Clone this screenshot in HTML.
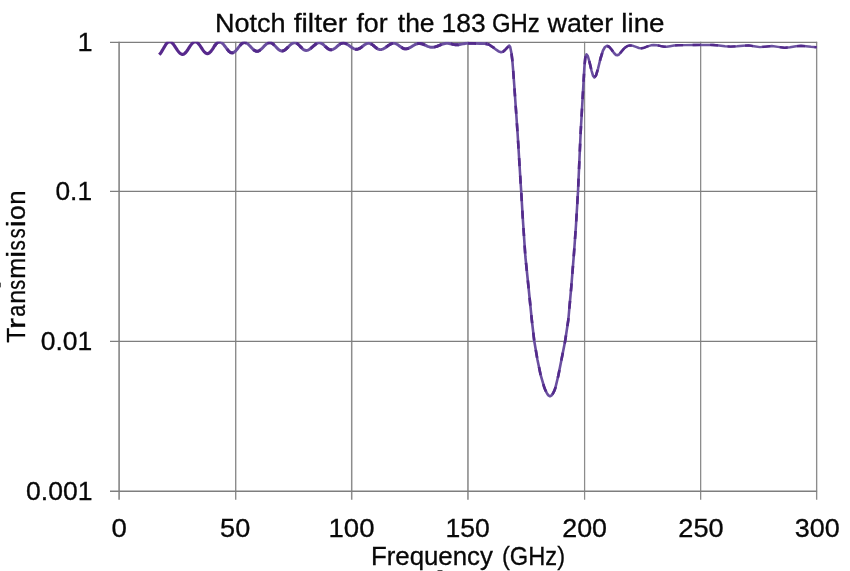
<!DOCTYPE html>
<html><head><meta charset="utf-8"><title>Notch filter</title>
<style>html,body{margin:0;padding:0;background:#fff;}body{width:850px;height:571px;overflow:hidden;position:relative;font-family:"Liberation Sans",sans-serif;}</style>
</head><body>
<svg width="850" height="571" viewBox="0 0 850 571" style="position:absolute;left:0;top:0;will-change:transform">
<rect width="850" height="571" fill="#fff"/>
<g stroke="#8c8c8c">
<line x1="119.1" y1="41.8" x2="119.1" y2="499.8" stroke-width="1.7"/>
<line x1="235.7" y1="41.8" x2="235.7" y2="499.8" stroke-width="1.4"/>
<line x1="351.7" y1="41.8" x2="351.7" y2="499.8" stroke-width="1.5"/>
<line x1="467.95" y1="41.8" x2="467.95" y2="499.8" stroke-width="1.6"/>
<line x1="584.6" y1="41.8" x2="584.6" y2="499.8" stroke-width="1.25"/>
<line x1="700.65" y1="41.8" x2="700.65" y2="499.8" stroke-width="1.3"/>
<line x1="816.65" y1="41.8" x2="816.65" y2="499.8" stroke-width="1.35"/>
</g>
<g stroke="#7e7e7e">
<line x1="110" y1="42.38" x2="817.1" y2="42.38" stroke-width="1.25"/>
<line x1="110" y1="191.4" x2="817.1" y2="191.4" stroke-width="1.25"/>
<line x1="110" y1="341.4" x2="817.1" y2="341.4" stroke-width="1.25"/>
<line x1="110" y1="491.3" x2="817.1" y2="491.3" stroke-width="1.4"/>
</g>
<clipPath id="cp"><rect x="100" y="41.7" width="740" height="470"/></clipPath>
<g clip-path="url(#cp)" fill="none" stroke-linejoin="round" stroke-linecap="butt">
<path d="M214.4,46.2 L215.4,44.8 L216.4,43.6 L217.4,42.7 L218.4,42.1 L219.4,41.9 L220.5,42.1 L221.5,42.6 L222.6,43.5 L223.6,44.6 L224.7,46.0 L225.8,47.4 L226.8,48.8 L227.9,50.1 L228.9,51.3 L230.0,52.2 L231.0,52.7 L232.1,52.9 L233.1,52.7 L234.2,52.2 L235.2,51.4 L236.2,50.3 L237.3,49.0 L238.3,47.7 L239.3,46.4 L240.4,45.1 L241.4,44.0 L242.4,43.2 L243.5,42.7 L244.5,42.5 L245.5,42.6 L246.6,43.1 L247.6,43.8 L248.7,44.7 L249.7,45.8 L250.8,46.9 L251.8,48.0 L252.8,49.1 L253.9,50.0 L254.9,50.7 L256.0,51.2 L257.0,51.3 L258.1,51.2 L259.1,50.7 L260.2,50.0 L261.2,49.1 L262.3,48.1 L263.4,47.0 L264.4,45.8 L265.5,44.8 L266.5,43.9 L267.6,43.2 L268.6,42.7 L269.7,42.6 L270.7,42.7 L271.8,43.2 L272.8,43.8 L273.8,44.7 L274.8,45.7 L275.9,46.8 L276.9,47.9 L277.9,48.9 L278.9,49.8 L279.9,50.4 L281.0,50.9 L282.0,51.0 L283.1,50.9 L284.1,50.4 L285.1,49.8 L286.2,48.9 L287.2,47.9 L288.3,46.9 L289.4,45.8 L290.4,44.8 L291.5,43.9 L292.5,43.3 L293.6,42.8 L294.6,42.7 L295.7,42.9 L296.7,43.3 L297.8,44.0 L298.8,45.0 L299.9,46.0 L300.9,47.2 L302.0,48.2 L303.0,49.2 L304.1,49.9 L305.1,50.3 L306.2,50.5 L307.2,50.4 L308.2,50.1 L309.2,49.5 L310.2,48.8 L311.2,48.0 L312.2,47.1 L313.3,46.2 L314.3,45.3 L315.3,44.5 L316.3,43.8 L317.3,43.2 L318.3,42.9 L319.3,42.8 L320.4,42.9 L321.4,43.4 L322.5,44.0 L323.6,44.8 L324.6,45.8 L325.7,46.8 L326.7,47.8 L327.8,48.6 L328.9,49.2 L329.9,49.7 L331.0,49.8 L332.0,49.7 L333.1,49.3 L334.1,48.8 L335.1,48.1 L336.1,47.3 L337.1,46.4 L338.2,45.5 L339.2,44.7 L340.2,44.0 L341.2,43.5 L342.3,43.1 L343.3,43.0 L344.3,43.1 L345.3,43.4 L346.3,43.8 L347.4,44.4 L348.4,45.0 L349.4,45.8 L350.4,46.5 L351.4,47.3 L352.4,47.9 L353.5,48.5 L354.5,48.9 L355.5,49.2 L356.5,49.3 L357.5,49.2 L358.5,48.9 L359.6,48.4 L360.6,47.8 L361.6,47.1 L362.6,46.3 L363.6,45.5 L364.6,44.8 L365.6,44.2 L366.7,43.7 L367.7,43.4 L368.7,43.3 L369.8,43.4 L370.8,43.8 L371.9,44.4 L372.9,45.1 L374.0,46.0 L375.0,46.9 L376.1,47.8 L377.1,48.5 L378.2,49.1 L379.2,49.5 L380.3,49.6 L381.3,49.5 L382.4,49.2 L383.4,48.8 L384.4,48.2 L385.5,47.6 L386.5,46.8 L387.5,46.1 L388.5,45.3 L389.6,44.7 L390.6,44.1 L391.6,43.7 L392.7,43.4 L393.7,43.3 L394.8,43.4 L395.9,43.7 L396.9,44.3 L398.0,44.9 L399.1,45.7 L400.2,46.5 L401.3,47.3 L402.4,47.9 L403.4,48.5 L404.5,48.8 L405.6,48.9 L406.6,48.8 L407.7,48.6 L408.7,48.2 L409.8,47.7 L410.8,47.1 L411.9,46.5 L412.9,45.8 L414.0,45.2 L415.0,44.6 L416.1,44.1 L417.1,43.7 L418.2,43.5 L419.2,43.4 L420.3,43.5 L421.3,43.7 L422.4,44.0 L423.5,44.4 L424.5,44.8 L425.6,45.3 L426.7,45.9 L427.7,46.3 L428.8,46.7 L429.9,47.0 L430.9,47.2 L432.0,47.3 L433.0,47.3 L434.0,47.1 L435.0,46.9 L436.0,46.6 L437.0,46.3 L438.0,45.9 L439.0,45.5 L440.0,45.1 L441.0,44.7 L442.0,44.3 L443.0,44.0 L444.0,43.7 L445.0,43.5 L446.0,43.3 L447.0,43.3 L448.1,43.3 L449.1,43.5 L450.2,43.7 L451.2,43.9 L452.3,44.2 L453.3,44.4 L454.4,44.6 L455.4,44.8 L456.5,44.8 L457.5,44.8 L458.6,44.7 L459.6,44.5 L460.7,44.3 L461.7,44.1 L462.8,43.9 L463.8,43.7 L464.9,43.5 L465.9,43.3 L467.0,43.2 L468.0,43.3 L474.0,43.4 L480.0,43.5 L485.0,43.6 L487.5,44.0" stroke="#6a4fa0" stroke-width="2.95"/>
<path d="M214.4,46.2 L215.4,44.8 L216.4,43.6 L217.4,42.7 L218.4,42.1 L219.4,41.9 L220.5,42.1 L221.5,42.6 L222.6,43.5 L223.6,44.6 L224.7,46.0 L225.8,47.4 L226.8,48.8 L227.9,50.1 L228.9,51.3 L230.0,52.2 L231.0,52.7 L232.1,52.9 L233.1,52.7 L234.2,52.2 L235.2,51.4 L236.2,50.3 L237.3,49.0 L238.3,47.7 L239.3,46.4 L240.4,45.1 L241.4,44.0 L242.4,43.2 L243.5,42.7 L244.5,42.5 L245.5,42.6 L246.6,43.1 L247.6,43.8 L248.7,44.7 L249.7,45.8 L250.8,46.9 L251.8,48.0 L252.8,49.1 L253.9,50.0 L254.9,50.7 L256.0,51.2 L257.0,51.3 L258.1,51.2 L259.1,50.7 L260.2,50.0 L261.2,49.1 L262.3,48.1 L263.4,47.0 L264.4,45.8 L265.5,44.8 L266.5,43.9 L267.6,43.2 L268.6,42.7 L269.7,42.6 L270.7,42.7 L271.8,43.2 L272.8,43.8 L273.8,44.7 L274.8,45.7 L275.9,46.8 L276.9,47.9 L277.9,48.9 L278.9,49.8 L279.9,50.4 L281.0,50.9 L282.0,51.0 L283.1,50.9 L284.1,50.4 L285.1,49.8 L286.2,48.9 L287.2,47.9 L288.3,46.9 L289.4,45.8 L290.4,44.8 L291.5,43.9 L292.5,43.3 L293.6,42.8 L294.6,42.7 L295.7,42.9 L296.7,43.3 L297.8,44.0 L298.8,45.0 L299.9,46.0 L300.9,47.2 L302.0,48.2 L303.0,49.2 L304.1,49.9 L305.1,50.3 L306.2,50.5 L307.2,50.4 L308.2,50.1 L309.2,49.5 L310.2,48.8 L311.2,48.0 L312.2,47.1 L313.3,46.2 L314.3,45.3 L315.3,44.5 L316.3,43.8 L317.3,43.2 L318.3,42.9 L319.3,42.8 L320.4,42.9 L321.4,43.4 L322.5,44.0 L323.6,44.8 L324.6,45.8 L325.7,46.8 L326.7,47.8 L327.8,48.6 L328.9,49.2 L329.9,49.7 L331.0,49.8 L332.0,49.7 L333.1,49.3 L334.1,48.8 L335.1,48.1 L336.1,47.3 L337.1,46.4 L338.2,45.5 L339.2,44.7 L340.2,44.0 L341.2,43.5 L342.3,43.1 L343.3,43.0 L344.3,43.1 L345.3,43.4 L346.3,43.8 L347.4,44.4 L348.4,45.0 L349.4,45.8 L350.4,46.5 L351.4,47.3 L352.4,47.9 L353.5,48.5 L354.5,48.9 L355.5,49.2 L356.5,49.3 L357.5,49.2 L358.5,48.9 L359.6,48.4 L360.6,47.8 L361.6,47.1 L362.6,46.3 L363.6,45.5 L364.6,44.8 L365.6,44.2 L366.7,43.7 L367.7,43.4 L368.7,43.3 L369.8,43.4 L370.8,43.8 L371.9,44.4 L372.9,45.1 L374.0,46.0 L375.0,46.9 L376.1,47.8 L377.1,48.5 L378.2,49.1 L379.2,49.5 L380.3,49.6 L381.3,49.5 L382.4,49.2 L383.4,48.8 L384.4,48.2 L385.5,47.6 L386.5,46.8 L387.5,46.1 L388.5,45.3 L389.6,44.7 L390.6,44.1 L391.6,43.7 L392.7,43.4 L393.7,43.3 L394.8,43.4 L395.9,43.7 L396.9,44.3 L398.0,44.9 L399.1,45.7 L400.2,46.5 L401.3,47.3 L402.4,47.9 L403.4,48.5 L404.5,48.8 L405.6,48.9 L406.6,48.8 L407.7,48.6 L408.7,48.2 L409.8,47.7 L410.8,47.1 L411.9,46.5 L412.9,45.8 L414.0,45.2 L415.0,44.6 L416.1,44.1 L417.1,43.7 L418.2,43.5 L419.2,43.4 L420.3,43.5 L421.3,43.7 L422.4,44.0 L423.5,44.4 L424.5,44.8 L425.6,45.3 L426.7,45.9 L427.7,46.3 L428.8,46.7 L429.9,47.0 L430.9,47.2 L432.0,47.3 L433.0,47.3 L434.0,47.1 L435.0,46.9 L436.0,46.6 L437.0,46.3 L438.0,45.9 L439.0,45.5 L440.0,45.1 L441.0,44.7 L442.0,44.3 L443.0,44.0 L444.0,43.7 L445.0,43.5 L446.0,43.3 L447.0,43.3 L448.1,43.3 L449.1,43.5 L450.2,43.7 L451.2,43.9 L452.3,44.2 L453.3,44.4 L454.4,44.6 L455.4,44.8 L456.5,44.8 L457.5,44.8 L458.6,44.7 L459.6,44.5 L460.7,44.3 L461.7,44.1 L462.8,43.9 L463.8,43.7 L464.9,43.5 L465.9,43.3 L467.0,43.2 L468.0,43.3 L474.0,43.4 L480.0,43.5 L485.0,43.6 L487.5,44.0" stroke="#532a8b" stroke-width="2.95" stroke-dasharray="8 9.5"/>
<path d="M487.5,44.0 L490.0,45.2 L492.0,46.6 L494.0,47.9 L496.5,49.9 L499.0,51.6 L501.0,52.2 L503.0,51.7 L505.0,50.0 L507.0,47.8 L508.5,46.3 L509.3,45.6 L510.2,47.0 L511.5,53.5 L512.3,60.0 L513.2,71.0 L514.2,84.5 L515.9,109.0 L517.6,133.5 L519.1,158.0 L520.6,182.5 L521.2,191.4 L522.8,218.5 L525.4,257.0 L528.5,287.0 L531.8,320.0 L534.3,341.3 L537.4,359.4 L540.7,375.2 L544.4,387.8 L545.5,390.4 L546.6,392.6 L547.6,394.3 L548.7,395.6 L550.0,396.2 L551.3,395.6 L552.4,394.3 L553.4,392.6 L554.5,390.4 L555.4,387.8 L558.4,375.2 L561.5,359.4 L565.1,341.3 L568.3,320.0 L571.3,286.7 L574.0,253.0 L576.0,225.0 L578.0,191.5 L579.5,158.0 L580.6,133.5 L582.0,109.0 L583.4,84.5 L584.4,67.0 L585.3,57.5 L586.5,54.4 L587.8,56.0 L589.5,62.0 L591.5,70.5 L593.0,75.6 L594.4,77.4 L596.0,75.5 L598.0,68.8 L600.5,58.5 L603.0,50.5 L605.0,47.0 L607.0,45.8 L609.0,46.7 L611.5,49.5 L614.0,53.0 L616.0,55.0 L617.3,55.3 L619.0,54.5 L621.5,51.5 L624.5,48.0" stroke="#6a4fa0" stroke-width="2.6"/>
<path d="M487.5,44.0 L490.0,45.2 L492.0,46.6 L494.0,47.9 L496.5,49.9 L499.0,51.6 L501.0,52.2 L503.0,51.7 L505.0,50.0 L507.0,47.8 L508.5,46.3 L509.3,45.6 L510.2,47.0 L511.5,53.5 L512.3,60.0 L513.2,71.0 L514.2,84.5 L515.9,109.0 L517.6,133.5 L519.1,158.0 L520.6,182.5 L521.2,191.4 L522.8,218.5 L525.4,257.0 L528.5,287.0 L531.8,320.0 L534.3,341.3 L537.4,359.4 L540.7,375.2 L544.4,387.8 L545.5,390.4 L546.6,392.6 L547.6,394.3 L548.7,395.6 L550.0,396.2 L551.3,395.6 L552.4,394.3 L553.4,392.6 L554.5,390.4 L555.4,387.8 L558.4,375.2 L561.5,359.4 L565.1,341.3 L568.3,320.0 L571.3,286.7 L574.0,253.0 L576.0,225.0 L578.0,191.5 L579.5,158.0 L580.6,133.5 L582.0,109.0 L583.4,84.5 L584.4,67.0 L585.3,57.5 L586.5,54.4 L587.8,56.0 L589.5,62.0 L591.5,70.5 L593.0,75.6 L594.4,77.4 L596.0,75.5 L598.0,68.8 L600.5,58.5 L603.0,50.5 L605.0,47.0 L607.0,45.8 L609.0,46.7 L611.5,49.5 L614.0,53.0 L616.0,55.0 L617.3,55.3 L619.0,54.5 L621.5,51.5 L624.5,48.0" stroke="#532a8b" stroke-width="2.6" stroke-dasharray="8 9.5"/>
<path d="M624.5,48.0 L627.5,46.0 L630.0,45.4 L633.0,45.8 L636.0,46.9 L639.0,48.0 L641.3,48.3 L644.0,47.8 L647.5,46.4 L651.0,45.3 L653.5,45.0 L657.0,45.3 L661.0,46.1 L664.0,46.7 L666.5,46.8 L670.0,46.2 L674.0,45.5 L678.0,45.2 L685.0,45.1 L695.0,45.0 L705.0,44.9 L713.0,45.0 L719.0,45.5 L725.0,46.2 L730.6,46.6 L737.0,46.3 L743.0,45.7 L748.5,45.4 L754.0,46.2 L760.0,47.1 L766.0,46.6 L771.8,46.0 L778.0,46.9 L784.7,47.8 L790.0,47.3 L796.0,46.2 L801.0,45.8 L806.0,46.2 L811.0,46.8 L816.6,47.2" stroke="#6c53a1" stroke-width="2.4"/>
<path d="M624.5,48.0 L627.5,46.0 L630.0,45.4 L633.0,45.8 L636.0,46.9 L639.0,48.0 L641.3,48.3 L644.0,47.8 L647.5,46.4 L651.0,45.3 L653.5,45.0 L657.0,45.3 L661.0,46.1 L664.0,46.7 L666.5,46.8 L670.0,46.2 L674.0,45.5 L678.0,45.2 L685.0,45.1 L695.0,45.0 L705.0,44.9 L713.0,45.0 L719.0,45.5 L725.0,46.2 L730.6,46.6 L737.0,46.3 L743.0,45.7 L748.5,45.4 L754.0,46.2 L760.0,47.1 L766.0,46.6 L771.8,46.0 L778.0,46.9 L784.7,47.8 L790.0,47.3 L796.0,46.2 L801.0,45.8 L806.0,46.2 L811.0,46.8 L816.6,47.2" stroke="#532a8b" stroke-width="2.3" stroke-dasharray="8 9.5"/>
<path d="M159.2,54.7 L160.3,53.6 L161.3,52.1 L162.3,50.4 L163.3,48.7 L164.4,46.9 L165.4,45.2 L166.4,43.7 L167.4,42.6 L168.5,41.9 L169.5,41.7 L170.5,41.9 L171.5,42.4 L172.5,43.3 L173.5,44.4 L174.5,45.8 L175.5,47.3 L176.5,48.8 L177.5,50.3 L178.5,51.7 L179.5,52.8 L180.5,53.7 L181.5,54.2 L182.5,54.4 L183.6,54.2 L184.6,53.5 L185.7,52.5 L186.7,51.2 L187.8,49.7 L188.8,48.1 L189.9,46.4 L191.0,44.9 L192.0,43.6 L193.1,42.6 L194.1,41.9 L195.2,41.7 L196.2,41.9 L197.2,42.5 L198.2,43.4 L199.3,44.7 L200.3,46.1 L201.3,47.6 L202.3,49.2 L203.3,50.6 L204.3,51.9 L205.4,52.8 L206.4,53.4 L207.4,53.6 L208.4,53.4 L209.4,52.8 L210.4,51.9 L211.4,50.7 L212.4,49.3 L213.4,47.8 L214.4,46.2 L215.4,44.8" stroke="#57298c" stroke-width="3.15"/>
</g>
<text transform="translate(214.88,31.60) scale(1.0406,1)" font-size="26" font-family="Liberation Sans, sans-serif" fill="#080808" stroke="#080808" stroke-width="0.3" style="font-kerning:none">Notch</text>
<text transform="translate(293.70,31.60) scale(1.0907,1)" font-size="26" font-family="Liberation Sans, sans-serif" fill="#080808" stroke="#080808" stroke-width="0.3" style="font-kerning:none">filter</text>
<text transform="translate(356.42,31.60) scale(1.0324,1)" font-size="26" font-family="Liberation Sans, sans-serif" fill="#080808" stroke="#080808" stroke-width="0.3" style="font-kerning:none">for</text>
<text transform="translate(397.80,31.60) scale(1.0175,1)" font-size="26" font-family="Liberation Sans, sans-serif" fill="#080808" stroke="#080808" stroke-width="0.3" style="font-kerning:none">the</text>
<text transform="translate(441.58,31.60) scale(1.0185,1)" font-size="26" font-family="Liberation Sans, sans-serif" fill="#080808" stroke="#080808" stroke-width="0.3" style="font-kerning:none">183</text>
<text transform="translate(491.90,31.60) scale(0.9211,1)" font-size="26" font-family="Liberation Sans, sans-serif" fill="#080808" stroke="#080808" stroke-width="0.3" style="font-kerning:none">GHz</text>
<text transform="translate(547.54,31.60) scale(1.0335,1)" font-size="26" font-family="Liberation Sans, sans-serif" fill="#080808" stroke="#080808" stroke-width="0.3" style="font-kerning:none">water</text>
<text transform="translate(621.33,31.60) scale(1.0675,1)" font-size="26" font-family="Liberation Sans, sans-serif" fill="#080808" stroke="#080808" stroke-width="0.3" style="font-kerning:none">line</text>
<text transform="translate(370.88,564.50) scale(0.9946,1)" font-size="26" font-family="Liberation Sans, sans-serif" fill="#080808" stroke="#080808" stroke-width="0.3" style="font-kerning:none">Frequency</text>
<text transform="translate(501.93,564.50) scale(0.9109,1)" font-size="26" font-family="Liberation Sans, sans-serif" fill="#080808" stroke="#080808" stroke-width="0.3" style="font-kerning:none">(GHz)</text>
<text transform="translate(25.40,342.76) rotate(-90) scale(0.9523,1)" font-size="26" font-family="Liberation Sans, sans-serif" fill="#080808" stroke="#080808" stroke-width="0.3" style="font-kerning:none">T</text>
<text transform="translate(25.40,329.18) rotate(-90) scale(1.3231,1)" font-size="26" font-family="Liberation Sans, sans-serif" fill="#080808" stroke="#080808" stroke-width="0.3" style="font-kerning:none">r</text>
<text transform="translate(25.40,316.81) rotate(-90) scale(0.8236,1)" font-size="26" font-family="Liberation Sans, sans-serif" fill="#080808" stroke="#080808" stroke-width="0.3" style="font-kerning:none">a</text>
<text transform="translate(25.40,303.87) rotate(-90) scale(0.9688,1)" font-size="26" font-family="Liberation Sans, sans-serif" fill="#080808" stroke="#080808" stroke-width="0.3" style="font-kerning:none">n</text>
<text transform="translate(25.40,289.65) rotate(-90) scale(0.7586,1)" font-size="26" font-family="Liberation Sans, sans-serif" fill="#080808" stroke="#080808" stroke-width="0.3" style="font-kerning:none">s</text>
<text transform="translate(25.40,278.68) rotate(-90) scale(0.9716,1)" font-size="26" font-family="Liberation Sans, sans-serif" fill="#080808" stroke="#080808" stroke-width="0.3" style="font-kerning:none">m</text>
<text transform="translate(25.40,258.11) rotate(-90) scale(1.2691,1)" font-size="26" font-family="Liberation Sans, sans-serif" fill="#080808" stroke="#080808" stroke-width="0.3" style="font-kerning:none">i</text>
<text transform="translate(25.40,250.47) rotate(-90) scale(0.7939,1)" font-size="26" font-family="Liberation Sans, sans-serif" fill="#080808" stroke="#080808" stroke-width="0.3" style="font-kerning:none">s</text>
<text transform="translate(25.40,238.36) rotate(-90) scale(0.7674,1)" font-size="26" font-family="Liberation Sans, sans-serif" fill="#080808" stroke="#080808" stroke-width="0.3" style="font-kerning:none">s</text>
<text transform="translate(25.40,227.33) rotate(-90) scale(1.2253,1)" font-size="26" font-family="Liberation Sans, sans-serif" fill="#080808" stroke="#080808" stroke-width="0.3" style="font-kerning:none">i</text>
<text transform="translate(25.40,220.02) rotate(-90) scale(1.0264,1)" font-size="26" font-family="Liberation Sans, sans-serif" fill="#080808" stroke="#080808" stroke-width="0.3" style="font-kerning:none">o</text>
<text transform="translate(25.40,204.82) rotate(-90) scale(0.9959,1)" font-size="26" font-family="Liberation Sans, sans-serif" fill="#080808" stroke="#080808" stroke-width="0.3" style="font-kerning:none">n</text>
<text transform="translate(77.43,50.80) scale(1.0855,1)" font-size="25" font-family="Liberation Sans, sans-serif" fill="#080808" stroke="#080808" stroke-width="0.3" style="font-kerning:none">1</text>
<text transform="translate(55.47,199.70) scale(1.0536,1)" font-size="25" font-family="Liberation Sans, sans-serif" fill="#080808" stroke="#080808" stroke-width="0.3" style="font-kerning:none">0.1</text>
<text transform="translate(40.77,349.60) scale(1.0590,1)" font-size="25" font-family="Liberation Sans, sans-serif" fill="#080808" stroke="#080808" stroke-width="0.3" style="font-kerning:none">0.01</text>
<text transform="translate(26.06,499.50) scale(1.0619,1)" font-size="25" font-family="Liberation Sans, sans-serif" fill="#080808" stroke="#080808" stroke-width="0.3" style="font-kerning:none">0.001</text>
<text transform="translate(111.42,536.70) scale(1.1045,1)" font-size="25" font-family="Liberation Sans, sans-serif" fill="#080808" stroke="#080808" stroke-width="0.3" style="font-kerning:none">0</text>
<text transform="translate(220.11,536.70) scale(1.0840,1)" font-size="25" font-family="Liberation Sans, sans-serif" fill="#080808" stroke="#080808" stroke-width="0.3" style="font-kerning:none">50</text>
<text transform="translate(328.50,536.70) scale(1.1022,1)" font-size="25" font-family="Liberation Sans, sans-serif" fill="#080808" stroke="#080808" stroke-width="0.3" style="font-kerning:none">100</text>
<text transform="translate(445.58,536.70) scale(1.0610,1)" font-size="25" font-family="Liberation Sans, sans-serif" fill="#080808" stroke="#080808" stroke-width="0.3" style="font-kerning:none">150</text>
<text transform="translate(562.25,536.70) scale(1.0740,1)" font-size="25" font-family="Liberation Sans, sans-serif" fill="#080808" stroke="#080808" stroke-width="0.3" style="font-kerning:none">200</text>
<text transform="translate(678.33,536.70) scale(1.0867,1)" font-size="25" font-family="Liberation Sans, sans-serif" fill="#080808" stroke="#080808" stroke-width="0.3" style="font-kerning:none">250</text>
<text transform="translate(794.87,536.70) scale(1.0784,1)" font-size="25" font-family="Liberation Sans, sans-serif" fill="#080808" stroke="#080808" stroke-width="0.3" style="font-kerning:none">300</text>
<rect x="-0.4" y="282.4" width="1.3" height="5.2" rx="0.8" fill="#4a4a4a"/>
<rect x="437.4" y="570.0" width="5.2" height="1.6" rx="0.7" fill="#4f4f4f"/>
</svg>
</body></html>
